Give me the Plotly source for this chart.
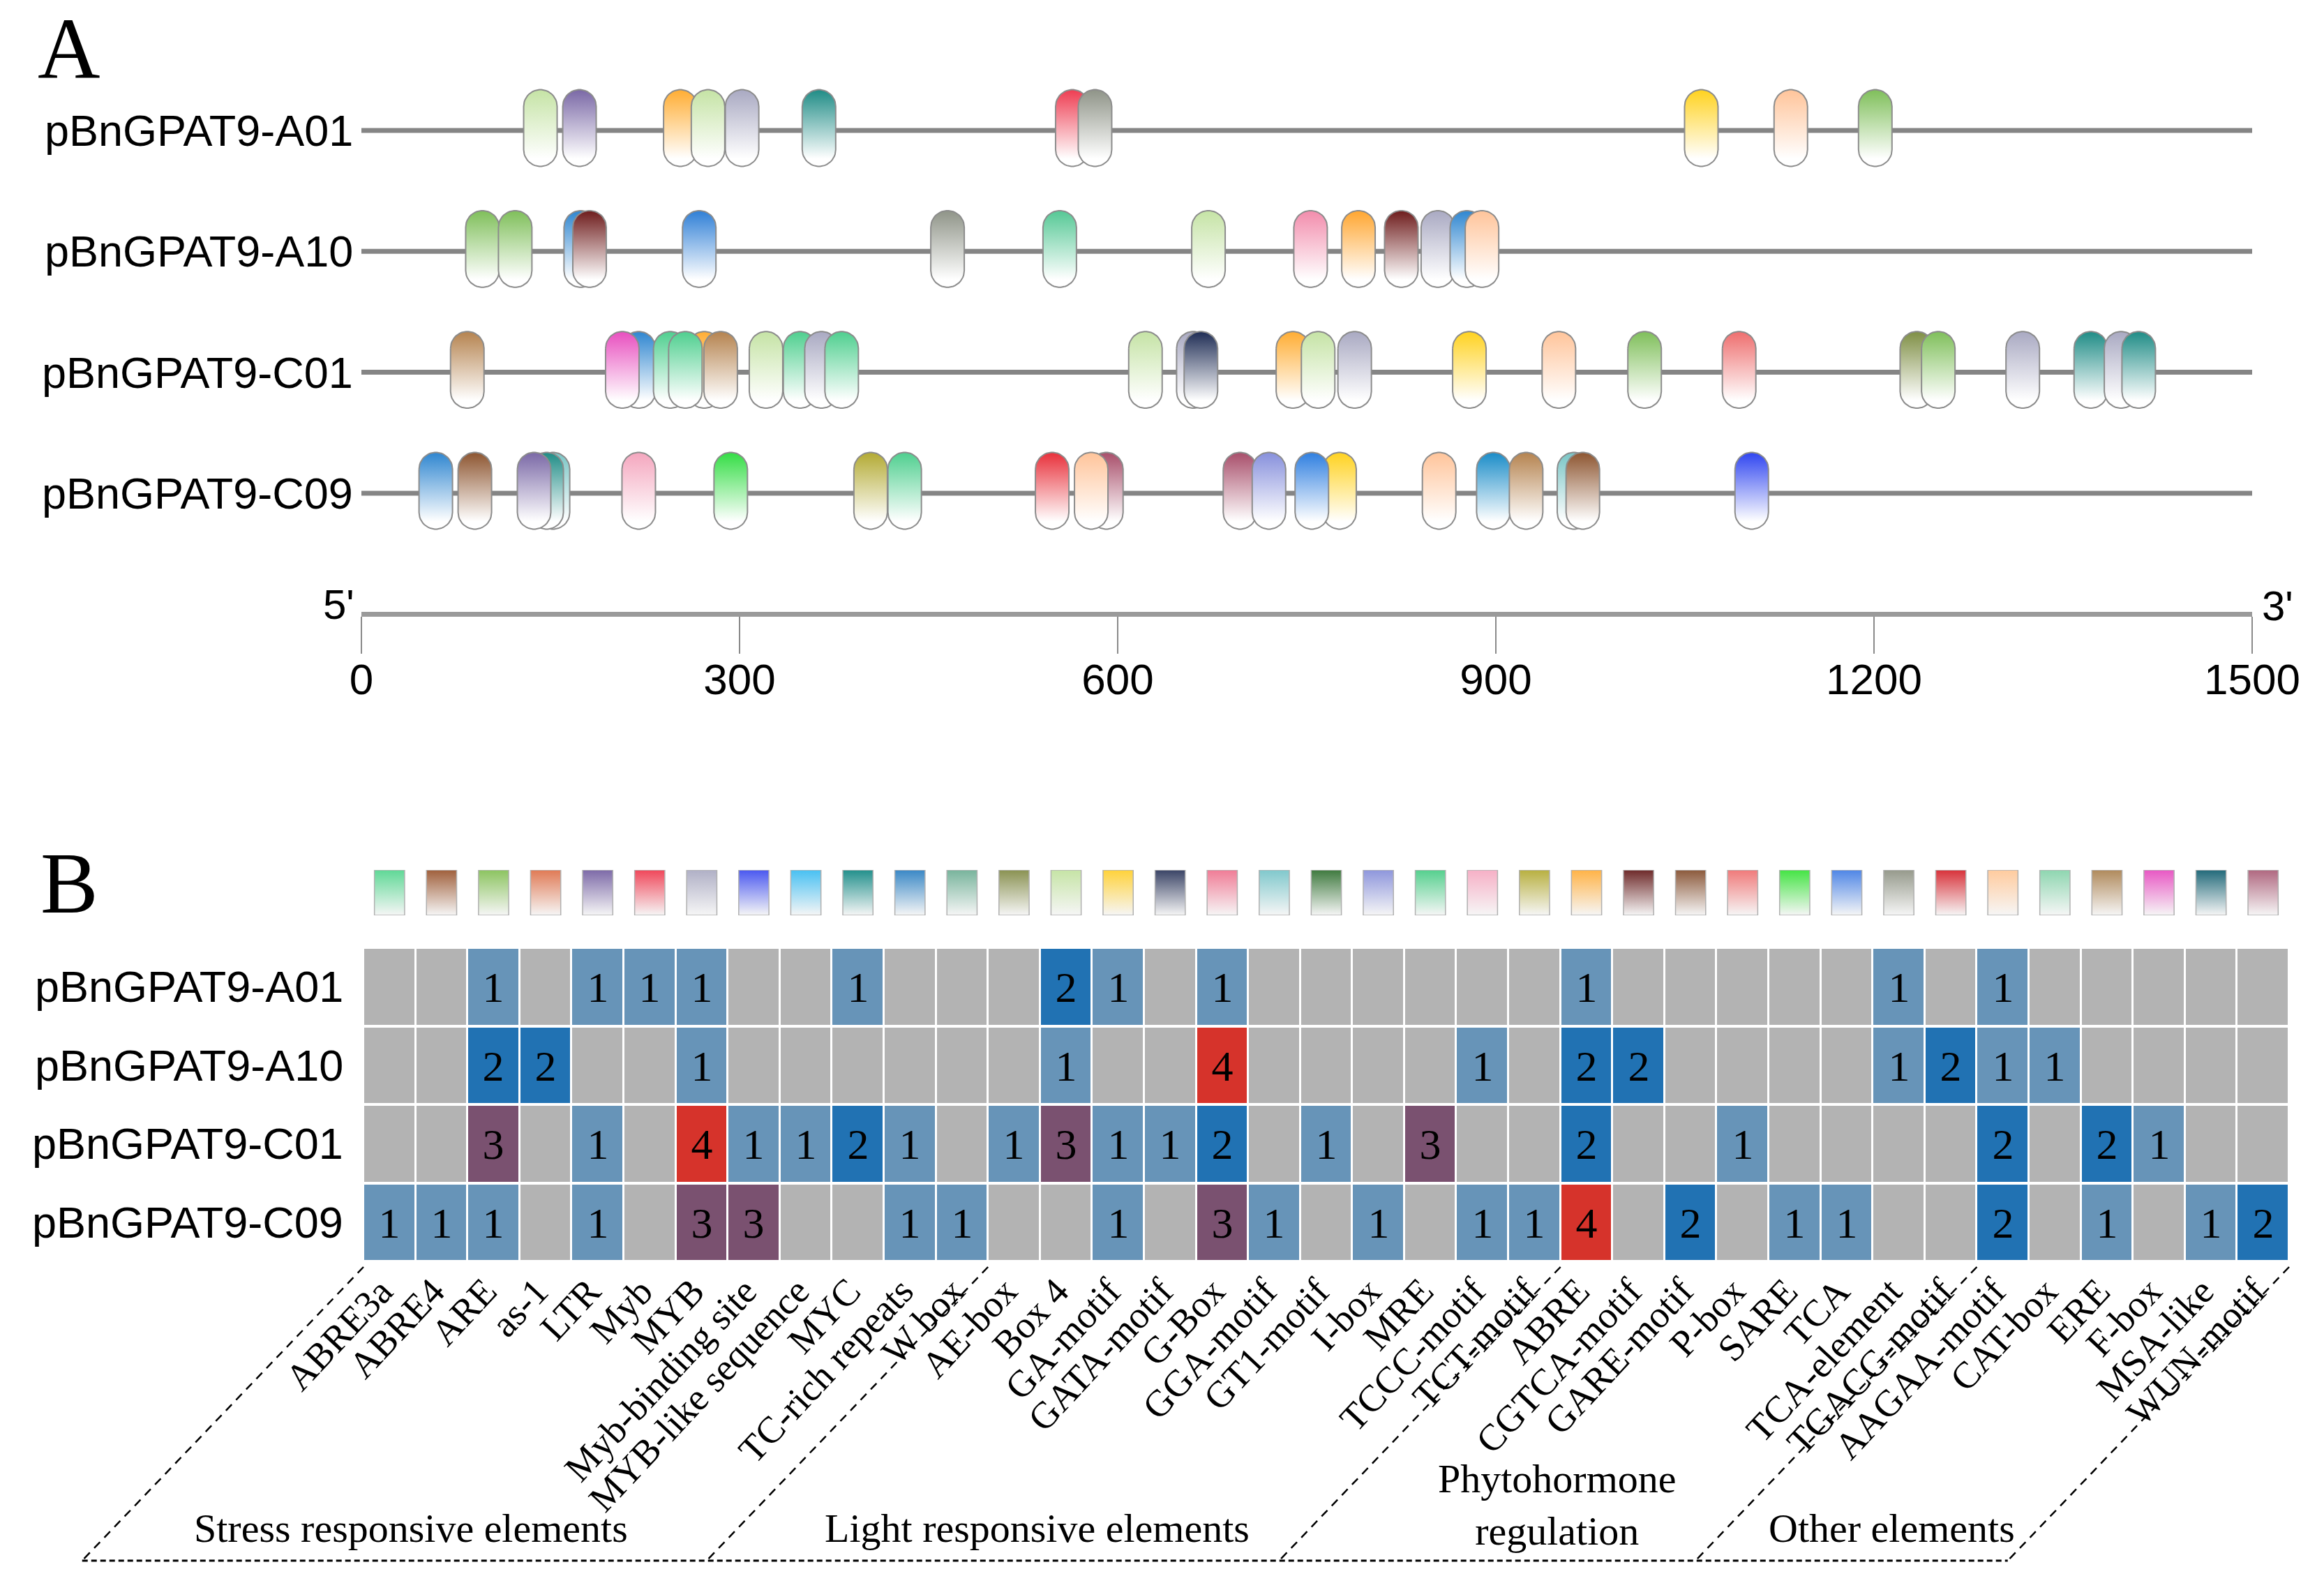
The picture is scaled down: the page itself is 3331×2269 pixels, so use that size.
import numpy as np
import plotly.graph_objects as go

W, H = 3331, 2269

# ---------------- data ----------------
genes = ["pBnGPAT9-A01", "pBnGPAT9-A10", "pBnGPAT9-C01", "pBnGPAT9-C09"]

seq_length = 1500
scale_ticks = [0, 300, 600, 900, 1200, 1500]

# Panel A: motif positions (bp) and colours, listed back-to-front
a01_pos = [142, 173, 253, 275, 302, 363, 564, 582, 1063, 1134, 1201]
a01_col = ["#c5e3a5", "#7a68a6", "#ffad33", "#c5e3a5", "#a9a9c2", "#1f8c86",
           "#ee3d52", "#8f9488", "#ffd21f", "#ffc49a", "#7fbf5a"]

a10_pos = [96, 122, 174, 181, 268, 465, 554, 672, 753, 791, 825, 854, 877, 889]
a10_col = ["#7fbf5a", "#7fbf5a", "#2f86d0", "#6e1c1c", "#2f7fd6", "#8f9488",
           "#55c895", "#c5e3a5", "#f28cac", "#ffa630", "#6e1c1c", "#a9a9c2",
           "#2f86d0", "#ffc49a"]

c01_pos = [84, 220, 207, 272, 245, 257, 285, 321, 348, 365, 381,
           622, 660, 666, 739, 759, 788, 879, 950, 1018, 1093,
           1234, 1251, 1318, 1372, 1396, 1410]
c01_col = ["#b5834f", "#2f86d0", "#e84fbf", "#ffad33", "#4fcf8f", "#4fcf8f",
           "#b5834f", "#c5e3a5", "#4fcf8f", "#a9a9c2", "#4fcf8f",
           "#c5e3a5", "#a9a9c2", "#1f2d55", "#ffad33", "#c5e3a5", "#a9a9c2",
           "#ffd21f", "#ffc49a", "#7fbf5a", "#ee6e6e",
           "#7f8f45", "#7fbf5a", "#a9a9c2", "#1f8c86", "#a9a9c2", "#1f8c86"]

c09_pos = [59, 90, 152, 147, 137, 220, 293, 404, 431, 548, 591, 579,
           697, 720, 776, 754, 855, 898, 924, 962, 969, 1103]
c09_col = ["#2f86d0", "#8d5530", "#79c5c5", "#1f8c86", "#7a68a6", "#f4a6be",
           "#33dd44", "#b3aa33", "#4fcf8f", "#e8303a", "#a84e6a", "#ffc49a",
           "#a84e6a", "#8790dc", "#ffd21f", "#2f7fe0", "#ffc49a", "#1a8cc8",
           "#b5834f", "#79c5c5", "#8d5530", "#2f45f0"]

motif_pos = [a01_pos, a10_pos, c01_pos, c09_pos]
motif_col = [a01_col, a10_col, c01_col, c09_col]

# Panel B
elements = ["ABRE3a", "ABRE4", "ARE", "as-1", "LTR", "Myb", "MYB", "Myb-binding site",
            "MYB-like sequence", "MYC", "TC-rich repeats", "W box",
            "AE-box", "Box 4", "GA-motif", "GATA-motif", "G-Box", "GGA-motif",
            "GT1-motif", "I-box", "MRE", "TCCC-motif", "TCT-motif",
            "ABRE", "CGTCA-motif", "GARE-motif", "P-box", "SARE", "TCA",
            "TCA-element", "TGACG-motif",
            "AAGAA-motif", "CAT-box", "ERE", "F-box", "MSA-like", "WUN-motif"]
element_colors = ["#5fd896", "#a0603c", "#8cc460", "#e07a55", "#7d6aa8", "#f0475a",
                  "#b0b0c6", "#4a58f0", "#48c0f2", "#22908c", "#3a88c6", "#78b49c",
                  "#8a9252", "#c6e4a6", "#ffd23a", "#3a4466", "#f07c96", "#80c8cc",
                  "#3f7a3f", "#8e96dc", "#55d08e", "#f6b0c6", "#b8b040",
                  "#ffb347", "#6e2a2a", "#8c5a3c", "#f07a7a", "#44e444", "#4f86e6",
                  "#969a8c", "#d8323a",
                  "#ffcb9e", "#8ed6b0", "#b08a5c", "#e858c4", "#226a7a", "#b06880"]

counts_A01 = [0, 0, 1, 0, 1, 1, 1, 0, 0, 1, 0, 0, 0, 2, 1, 0, 1, 0, 0, 0,
              0, 0, 0, 1, 0, 0, 0, 0, 0, 1, 0, 1, 0, 0, 0, 0, 0]
counts_A10 = [0, 0, 2, 2, 0, 0, 1, 0, 0, 0, 0, 0, 0, 1, 0, 0, 4, 0, 0, 0,
              0, 1, 0, 2, 2, 0, 0, 0, 0, 1, 2, 1, 1, 0, 0, 0, 0]
counts_C01 = [0, 0, 3, 0, 1, 0, 4, 1, 1, 2, 1, 0, 1, 3, 1, 1, 2, 0, 1, 0,
              3, 0, 0, 2, 0, 0, 1, 0, 0, 0, 0, 2, 0, 2, 1, 0, 0]
counts_C09 = [1, 1, 1, 0, 1, 0, 3, 3, 0, 0, 1, 1, 0, 0, 1, 0, 3, 1, 0, 1,
              0, 1, 1, 4, 0, 2, 0, 1, 1, 0, 0, 2, 0, 1, 0, 1, 2]

groups = ["Stress responsive elements", "Light responsive elements",
          "Phytohormone<br>regulation", "Other elements"]
group_sizes = [12, 11, 8, 6]

count_colors = ["#b3b3b3", "#6794b8", "#2172b3", "#7a5170", "#d6332b"]

# ---------------- layout geometry (pixels) ----------------
SERIF = "Liberation Serif, Times New Roman, serif"
SANS = "Liberation Sans, Arial, sans-serif"

ax_left, ax_right = 518, 3228          # panel A 0..1500 bp
row_top_px, row_gap_px = 187, 173.3    # panel A row centres
scale_y_px = 880

hm_left, hm_right = 521, 3281
hm_top, hm_bottom = 1358, 1808
sw_top, sw_bottom = 1247, 1312
grp_bottom = 2237
slant = 0.94

def py(p):
    return 1 - p / H

def pxx(p):
    return p / W

xpx = (ax_right - ax_left) / seq_length     # px per bp
ypx = row_gap_px                              # px per row unit
col_px = (hm_right - hm_left) / len(elements)

fig = go.Figure()

# gene backbone lines
for i, g in enumerate(genes):
    fig.add_trace(go.Scatter(x=[0, seq_length], y=[i, i], mode="lines",
                             line=dict(color="#858585", width=7),
                             hoverinfo="skip", showlegend=False,
                             xaxis="x", yaxis="y"))

# capsules
half_w, half_h = 24, 55
t = np.linspace(0, np.pi, 24)

def capsule(cx, cy):
    r = half_w
    top_c = -half_h + r
    bot_c = half_h - r
    ax_ = -r * np.cos(t)
    ay_ = top_c - r * np.sin(t)
    bx_ = r * np.cos(t)
    by_ = bot_c + r * np.sin(t)
    dx = np.concatenate([ax_, bx_, ax_[:1]])
    dy = np.concatenate([ay_, by_, ay_[:1]])
    return cx + dx / xpx, cy + dy / ypx

for i in range(len(genes)):
    for p, c in zip(motif_pos[i], motif_col[i]):
        cy = i - 0.02
        xs, ys = capsule(p, cy)
        fig.add_trace(go.Scatter(
            x=xs, y=ys, mode="lines", fill="toself",
            fillgradient=dict(type="vertical",
                              colorscale=[[0, c], [1, "#ffffff"]],
                              start=cy - half_h / ypx,
                              stop=cy + 0.8 * half_h / ypx),
            line=dict(color="#8c8c8c", width=2),
            hoverinfo="skip", showlegend=False, xaxis="x", yaxis="y"))

# heatmap
z = [counts_A01, counts_A10, counts_C01, counts_C09]
txt = [[("" if v == 0 else str(v)) for v in row] for row in z]
cs = []
n = len(count_colors)
for k, c in enumerate(count_colors):
    lo = max(0, (k - 0.5) / (n - 1))
    hi = min(1, (k + 0.5) / (n - 1))
    cs += [[lo, c], [hi, c]]
fig.add_trace(go.Heatmap(
    z=z, x=list(range(len(elements))), y=list(range(len(genes))),
    text=txt, texttemplate="%{text}",
    textfont=dict(family=SERIF, size=62, color="black"),
    colorscale=cs, zmin=0, zmax=n - 1, showscale=False,
    xgap=3, ygap=4, hoverinfo="skip", xaxis="x2", yaxis="y2"))

# colour swatches
sw_half = 0.29
for j, c in enumerate(element_colors):
    fig.add_trace(go.Scatter(
        x=[j - sw_half, j + sw_half, j + sw_half, j - sw_half, j - sw_half],
        y=[0, 0, 1, 1, 0], mode="lines", fill="toself",
        fillgradient=dict(type="vertical",
                          colorscale=[[0, c], [1, "#f6f6f6"]],
                          start=1, stop=0),
        line=dict(color="#b0b0b0", width=1.5),
        hoverinfo="skip", showlegend=False, xaxis="x2", yaxis="y3"))

annotations = []
# panel letters
annotations.append(dict(text="A", x=pxx(99), y=1, xref="paper", yref="paper",
                        xanchor="center", yanchor="top", showarrow=False,
                        font=dict(family=SERIF, size=124, color="black")))
annotations.append(dict(text="B", x=pxx(99), y=py(1266), xref="paper", yref="paper",
                        xanchor="center", yanchor="middle", showarrow=False,
                        font=dict(family=SERIF, size=124, color="black")))
# gene labels panel A
for i, g in enumerate(genes):
    annotations.append(dict(text=g, x=pxx(508), y=i, xref="paper", yref="y",
                            xanchor="right", yanchor="middle", showarrow=False,
                            font=dict(family=SANS, size=63, color="black")))
# 5' / 3'
annotations.append(dict(text="5'", x=pxx(510), y=py(866), xref="paper", yref="paper",
                        xanchor="right", yanchor="middle", showarrow=False,
                        font=dict(family=SANS, size=60, color="black")))
annotations.append(dict(text="3'", x=pxx(3240), y=py(868), xref="paper", yref="paper",
                        xanchor="left", yanchor="middle", showarrow=False,
                        font=dict(family=SANS, size=60, color="black")))
# gene labels panel B
for i, g in enumerate(genes):
    annotations.append(dict(text=g, x=pxx(494), y=i, xref="paper", yref="y2",
                            xanchor="right", yanchor="middle", showarrow=False,
                            font=dict(family=SANS, size=63, color="black")))
# element labels
for j, e in enumerate(elements):
    annotations.append(dict(text=e, x=j + 0.25, y=py(hm_bottom + 10), xref="x2", yref="paper",
                            xanchor="right", yanchor="top", textangle=-47, showarrow=False,
                            font=dict(family=SERIF, size=54, color="black")))

# group separators (positions derived from the heatmap's column mapping)
def col_edge_px(b):
    return hm_left + (b + 0.5) * col_px

shapes = []
shift_px = slant * (grp_bottom - hm_bottom)
bounds = [-0.5]
for s in group_sizes:
    bounds.append(bounds[-1] + s)
for b in bounds:
    x_top = col_edge_px(b)
    shapes.append(dict(type="line", xref="paper", yref="paper",
                       x0=pxx(x_top), y0=py(hm_bottom + 8),
                       x1=pxx(x_top - shift_px), y1=py(grp_bottom),
                       line=dict(color="black", width=2.5, dash="12px,9px")))
shapes.append(dict(type="line", xref="paper", yref="paper",
                   x0=pxx(col_edge_px(bounds[0]) - shift_px), y0=py(grp_bottom),
                   x1=pxx(col_edge_px(bounds[-1]) - shift_px), y1=py(grp_bottom),
                   line=dict(color="black", width=3, dash="8px,5px")))

# group labels
grp_label_px = [589, 1486, 2232, 2711]
grp_label_y = [2190, 2190, 2157, 2190]
for gname, gx, gy in zip(groups, grp_label_px, grp_label_y):
    annotations.append(dict(text=gname, x=pxx(gx), y=py(gy), xref="paper", yref="paper",
                            xanchor="center", yanchor="middle", showarrow=False,
                            font=dict(family=SERIF, size=58, color="black")))

fig.update_layout(
    width=W, height=H, margin=dict(l=0, r=0, t=0, b=0, pad=0), autosize=False,
    paper_bgcolor="white", plot_bgcolor="white", showlegend=False,
    xaxis=dict(domain=[pxx(ax_left), pxx(ax_right)], range=[0, seq_length],
               anchor="free", position=py(scale_y_px), automargin=False,
               showline=True, linecolor="#9a9a9a", linewidth=7,
               ticks="outside", ticklen=53, tickwidth=2, tickcolor="#8a8a8a",
               ticklabelstandoff=-16,
               tickvals=scale_ticks, ticktext=[str(v) for v in scale_ticks],
               tickfont=dict(family=SANS, size=62, color="black"),
               showgrid=False, zeroline=False, fixedrange=True),
    yaxis=dict(domain=[py(row_top_px + 3.5 * row_gap_px), py(row_top_px - 0.5 * row_gap_px)],
               range=[len(genes) - 0.5, -0.5], visible=False, fixedrange=True),
    xaxis2=dict(domain=[pxx(hm_left), pxx(hm_right)], range=[-0.5, len(elements) - 0.5],
                anchor="y2", visible=False, fixedrange=True),
    yaxis2=dict(domain=[py(hm_bottom), py(hm_top)], range=[len(genes) - 0.5, -0.5],
                anchor="x2", visible=False, fixedrange=True),
    yaxis3=dict(domain=[py(sw_bottom), py(sw_top)], range=[0, 1],
                anchor="x2", visible=False, fixedrange=True),
    annotations=annotations, shapes=shapes,
)

fig.write_html("out.html", config={"displayModeBar": False},
               post_script="document.body.style.margin='0';document.body.style.overflow='hidden';")
